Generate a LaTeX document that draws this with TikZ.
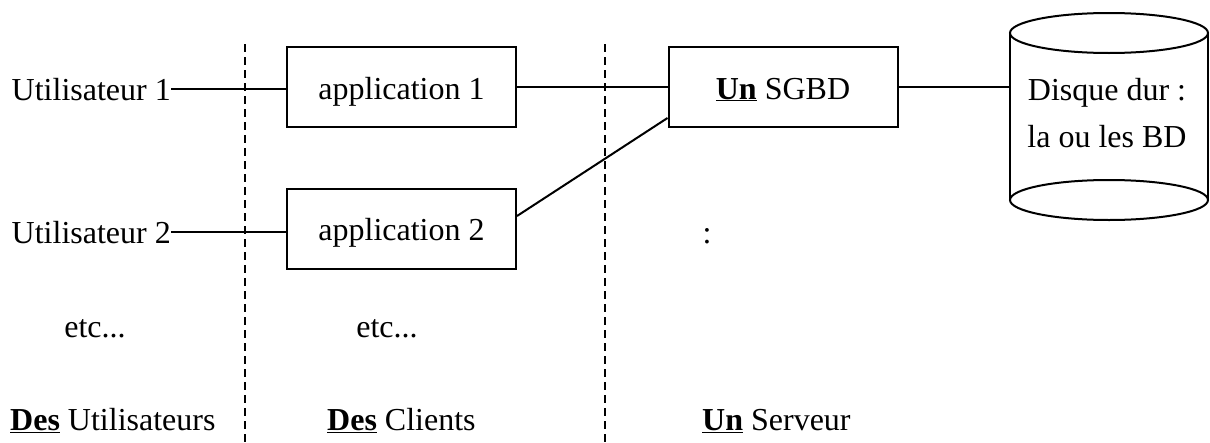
\documentclass[tikz,border=0pt]{standalone}
\usepackage{fontspec}
\setmainfont{Liberation Serif}
\begin{document}
\begin{tikzpicture}[x=1pt,y=-1pt,
  txt/.style={font=\fontsize{32}{47}\selectfont, inner sep=0pt},
  appbox/.style={txt, draw, line width=2pt, minimum width=229pt, minimum height=80pt, text height=24pt, text depth=0pt},
  link/.style={line width=2pt},
  sep/.style={line width=1.4pt, dash pattern=on 8pt off 5pt}]
\useasboundingbox (0,0) rectangle (1210,442);
% separators
\coordinate (s1t) at (245,44); \coordinate (s1b) at (245,442);
\coordinate (s2t) at (605,44); \coordinate (s2b) at (605,442);
\draw[sep] (s1t) -- (s1b);
\draw[sep] (s2t) -- (s2b);
% users
\node[txt, anchor=base east] (u1) at (171,100) {Utilisateur 1};
\node[txt, anchor=base east] (u2) at (171,243) {Utilisateur 2};
% applications
\node[appbox] (app1) at (401.5,87) {application 1};
\node[appbox] (app2) at (401.5,228.5) {application 2};
% SGBD
\node[appbox] (sgbd) at (783,87) {\underline{\textbf{Un}} SGBD};
% disk
\coordinate (dw) at (1010,87);
\draw[link] (1010,33) -- (1010,200);
\draw[link] (1208,33) -- (1208,200);
\draw[link, fill=white] (1109,33) ellipse [x radius=99, y radius=20];
\draw[link] (1109,200) ellipse [x radius=99, y radius=20];
\node[txt, align=center, anchor=base] (disk) at (1107,147) {Disque dur :\\la ou les BD};
% connectors
\draw[link] (u1.east) -- (u1.east -| app1.west);
\draw[link] (u2.east) -- (u2.east -| app2.west);
\draw[link] (app1.east) -- (sgbd.west);
\draw[link] ([yshift=12.5pt]app2.east) -- ([yshift=-31pt]sgbd.west);
\draw[link] (sgbd.east) -- (sgbd.east -| dw);
% other texts
\node[txt, anchor=base] (colon) at (707,243) {:};
\node[txt, anchor=base] (etc1) at (95,337) {etc...};
\node[txt, anchor=base] (etc2) at (387,337) {etc...};
\node[txt, anchor=base west] (l1) at (10,430) {\underline{\textbf{Des}} Utilisateurs};
\node[txt, anchor=base west] (l2) at (327,430) {\underline{\textbf{Des}} Clients};
\node[txt, anchor=base west] (l3) at (702,430) {\underline{\textbf{Un}} Serveur};
\end{tikzpicture}
\end{document}
